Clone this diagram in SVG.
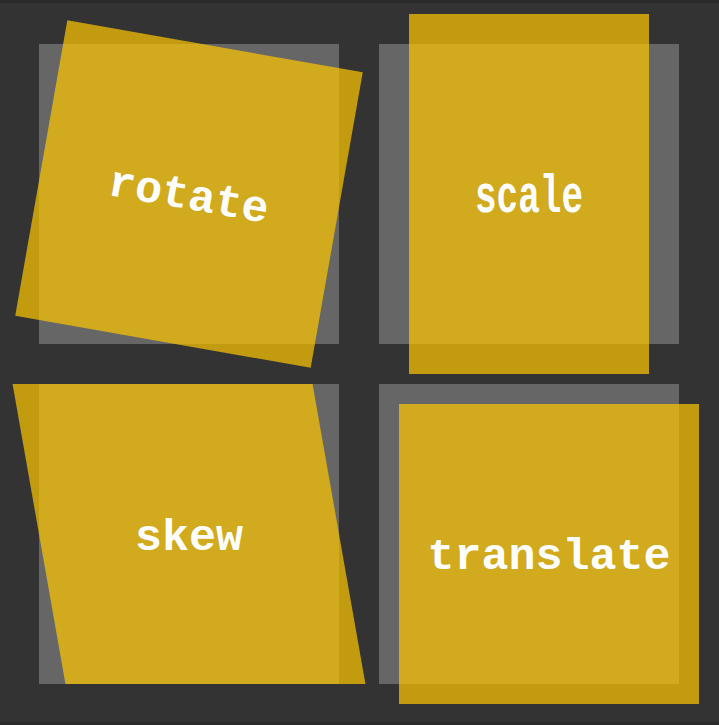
<svg xmlns="http://www.w3.org/2000/svg" width="719" height="725" viewBox="0 0 719 725">
<style>
.bg{fill:#333333}
.base{fill:#666666}
.box{fill:#ffc800;fill-opacity:0.7}
.lbl{font-family:"Liberation Mono","Courier New",monospace;font-weight:bold;font-size:45px;fill:#ffffff;text-anchor:middle}
</style>
<rect class="bg" x="0" y="0" width="719" height="725"/>
<rect x="0" y="0" width="719" height="3" fill="#2a2a2a"/>
<rect x="0" y="722" width="719" height="3" fill="#2a2a2a"/>
<g id="bases">
<rect class="base" x="39" y="44" width="300" height="300"/>
<rect class="base" x="379" y="44" width="300" height="300"/>
<rect class="base" x="39" y="384" width="300" height="300"/>
<rect class="base" x="379" y="384" width="300" height="300"/>
</g>
<g id="rotate" transform="translate(189 194) rotate(10)">
<rect class="box" x="-150" y="-150" width="300" height="300"/>
<text class="lbl" x="0" y="15">rotate</text>
</g>
<g id="scale" transform="translate(529 194) scale(0.8 1.2)">
<rect class="box" x="-150" y="-150" width="300" height="300"/>
<text class="lbl" x="0" y="15">scale</text>
</g>
<g id="skew">
<rect class="box" x="-150" y="-150" width="300" height="300" transform="translate(189 534) skewX(10)"/>
<text class="lbl" x="189" y="550">skew</text>
</g>
<g id="translate" transform="translate(549 554)">
<rect class="box" x="-150" y="-150" width="300" height="300"/>
<text class="lbl" x="0" y="15">translate</text>
</g>
<g id="connectors"/>
</svg>
